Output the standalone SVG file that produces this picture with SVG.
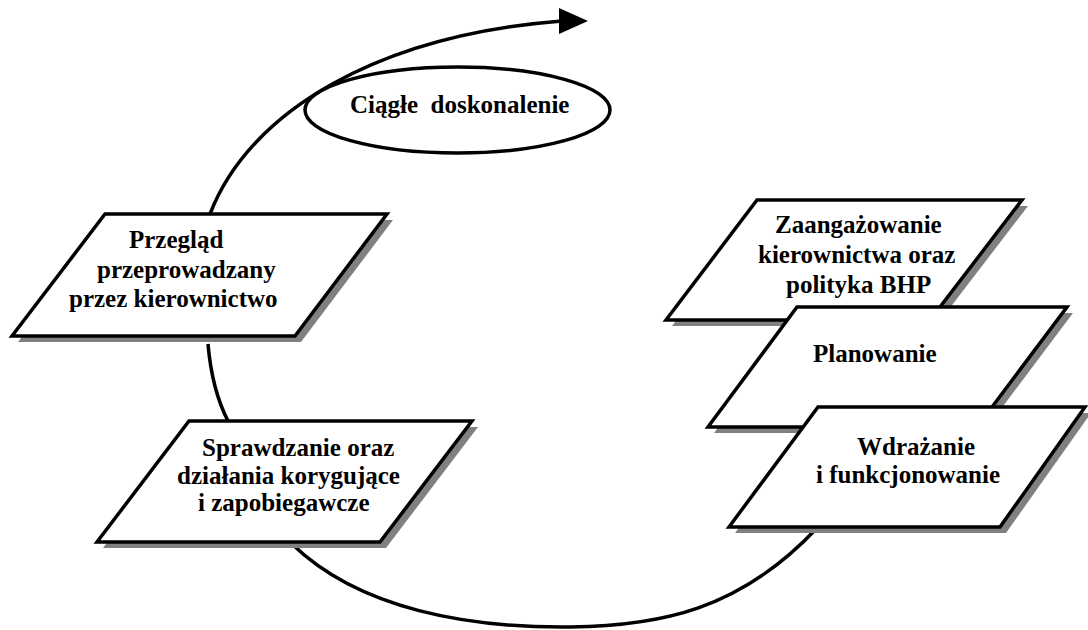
<svg xmlns="http://www.w3.org/2000/svg" width="1088" height="630" viewBox="0 0 1088 630">
<style>
.shadow{fill:#808080;stroke:none}
.box{fill:#fff;stroke:#000;stroke-width:3.5;stroke-linejoin:miter}
.conn{fill:none;stroke:#000;stroke-width:3.5;stroke-linecap:butt}
text{font-family:"Liberation Serif","Times New Roman",serif;font-weight:bold;font-size:25px;fill:#000}
</style>
<rect width="1088" height="630" fill="#fff"/>
<g id="connectors">
<path class="conn" d="M210,214 C250,110 380,35 562,21"/>
<polygon points="559,8 588,21 559,34" fill="#000"/>
<path class="conn" d="M208,344 Q212,390 228,421"/>
<path class="conn" d="M292,544 C360,610 470,628 570,627 C660,626 740,610 817,528"/>
</g>
<g id="ciagle">
<ellipse cx="457.5" cy="110" rx="152.5" ry="43" fill="none" stroke="#000" stroke-width="3.5"/>
<text x="350" y="113" xml:space="preserve">Ciągłe  doskonalenie</text>
</g>
<g id="przeglad">
<polygon class="shadow" points="111,220 393,220 301,342 18,342"/>
<polygon class="box" points="105,214 387,214 295,336 12,336"/>
<text x="129" y="248">Przegląd</text>
<text x="97" y="278">przeprowadzany</text>
<text x="69" y="307">przez kierownictwo</text>
</g>
<g id="sprawdzanie">
<polygon class="shadow" points="195,427 478,427 386,548 103,548"/>
<polygon class="box" points="189,421 472,421 380,542 97,542"/>
<text x="202" y="456">Sprawdzanie oraz</text>
<text x="177" y="484">działania korygujące</text>
<text x="198" y="511">i zapobiegawcze</text>
</g>
<g id="zaangazowanie">
<polygon class="shadow" points="763,206 1028,206 936,326 672,326"/>
<polygon class="box" points="757,200 1022,200 930,320 666,320"/>
<text x="775" y="233">Zaangażowanie</text>
<text x="758" y="263">kierownictwa oraz</text>
<text x="786" y="293">polityka BHP</text>
</g>
<g id="planowanie">
<polygon class="shadow" points="803,313 1073,313 983,433 714,433"/>
<polygon class="box" points="797,307 1067,307 977,427 708,427"/>
<text x="813" y="362">Planowanie</text>
</g>
<g id="wdrazanie">
<polygon class="shadow" points="824,413 1091,413 1006,533 735,533"/>
<polygon class="box" points="818,407 1085,407 1000,527 729,527"/>
<text x="857" y="455">Wdrażanie</text>
<text x="816" y="483">i funkcjonowanie</text>
</g>
</svg>
